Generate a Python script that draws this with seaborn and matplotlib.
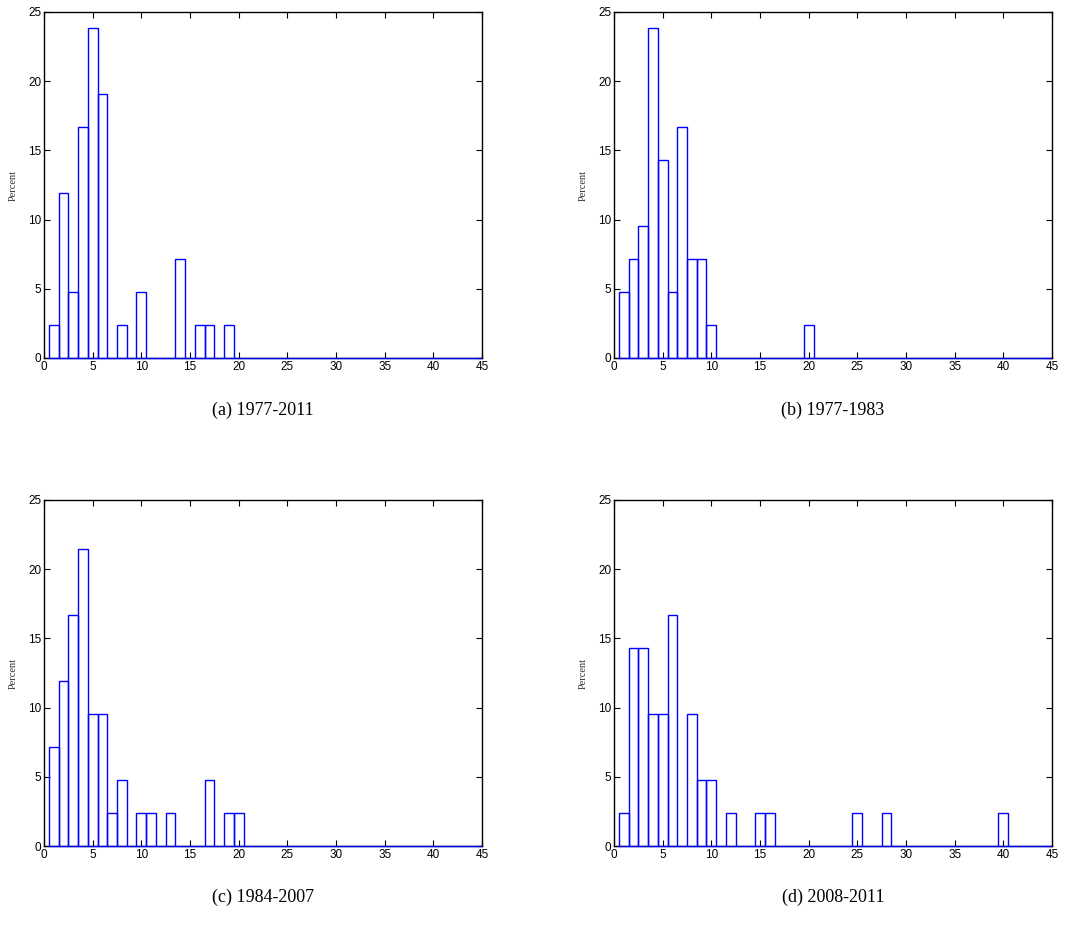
import numpy as np
import pandas as pd
import matplotlib
matplotlib.use("Agg")
import matplotlib.pyplot as plt
from matplotlib.transforms import Bbox, TransformedBbox
import seaborn as sns

# Integer bins 1..45 (bin width 1), values in percent
bin_centers = np.arange(1, 46)

pct_1977_2011 = {1: 2.38, 2: 11.90, 3: 4.76, 4: 16.67, 5: 23.81, 6: 19.05,
                 8: 2.38, 10: 4.76, 14: 7.14, 16: 2.38, 17: 2.38, 19: 2.38}
pct_1977_1983 = {1: 4.76, 2: 7.14, 3: 9.52, 4: 23.81, 5: 14.29, 6: 4.76,
                 7: 16.67, 8: 7.14, 9: 7.14, 10: 2.38, 20: 2.38}
pct_1984_2007 = {1: 7.14, 2: 11.90, 3: 16.67, 4: 21.43, 5: 9.52, 6: 9.52,
                 7: 2.38, 8: 4.76, 10: 2.38, 11: 2.38, 13: 2.38, 17: 4.76,
                 19: 2.38, 20: 2.38}
pct_2008_2011 = {1: 2.38, 2: 14.29, 3: 14.29, 4: 9.52, 5: 9.52, 6: 16.67,
                 8: 9.52, 9: 4.76, 10: 4.76, 12: 2.38, 15: 2.38, 16: 2.38,
                 25: 2.38, 28: 2.38, 40: 2.38}

captions = ["(a) 1977-2011", "(b) 1977-1983", "(c) 1984-2007", "(d) 2008-2011"]
series = [pct_1977_2011, pct_1977_1983, pct_1984_2007, pct_2008_2011]

x_ticks = list(range(0, 46, 5))
y_ticks = list(range(0, 26, 5))

sns.set_style("ticks")
plt.rcParams["font.family"] = ["Liberation Sans", "DejaVu Sans"]
plt.rcParams["text.color"] = "black"

fig = plt.figure(figsize=(10.66, 9.38), dpi=100)

W = 1066.0
H = 938.0
ax_w = (482 - 44) / W
ax_h = (358 - 12) / H
lefts = [44 / W, 614 / W, 44 / W, 614 / W]
bottoms = [1 - 358 / H, 1 - 358 / H, 1 - 846 / H, 1 - 846 / H]
caption_y = [1 - 410 / H, 1 - 410 / H, 1 - 897 / H, 1 - 897 / H]

for i, (pct, cap) in enumerate(zip(series, captions)):
    ax = fig.add_axes([lefts[i], bottoms[i], ax_w, ax_h])
    df = pd.DataFrame({"value": bin_centers,
                       "percent": [pct.get(int(c), 0.0) for c in bin_centers]})
    sns.histplot(data=df, x="value", weights="percent", binwidth=1,
                 binrange=(0.5, 45.5), fill=False, color="#0000ff",
                 linewidth=1.0, ax=ax)
    # bars (including empty bins) sit on top of the bottom spine;
    # clip only horizontally so the baseline keeps its full width
    clip = TransformedBbox(Bbox([[0, -0.05], [1, 1.05]]), ax.transAxes)
    for p in ax.patches:
        p.set_zorder(3)
        p.set_clip_box(clip)
    ax.set_xlim(0, 45)
    ax.set_ylim(0, 25)
    ax.set_xticks(x_ticks)
    ax.set_yticks(y_ticks)
    ax.tick_params(direction="in", top=True, right=True, length=4,
                   width=0.8, labelsize=8.5, pad=2, colors="black")
    for s in ax.spines.values():
        s.set_visible(True)
        s.set_linewidth(1.0)
        s.set_color("black")
    ax.set_xlabel("")
    ax.set_ylabel("Percent", family=["Liberation Serif", "DejaVu Serif"],
                  fontsize=7.5, labelpad=7, color="#333333")
    fig.text(lefts[i] + ax_w / 2, caption_y[i], cap,
             family=["Liberation Serif", "DejaVu Serif"], fontsize=13,
             ha="center", va="center", color="black")

fig.savefig("out.png", dpi=100)
